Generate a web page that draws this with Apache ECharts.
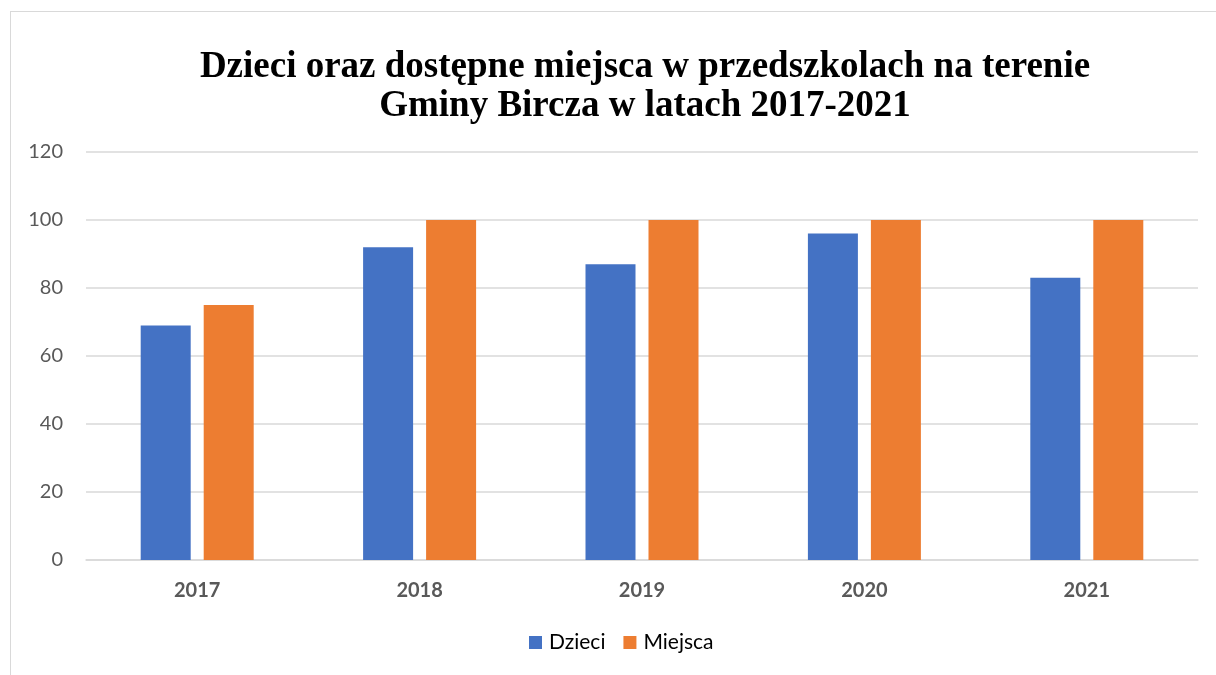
<!DOCTYPE html>
<html>
<head>
<meta charset="utf-8">
<script src="https://cdn.jsdelivr.net/npm/echarts@6/dist/echarts.min.js"></script>
<style>
  html, body { margin: 0; padding: 0; background: #fff; overflow: hidden; }
  #frame { position: absolute; left: 10px; top: 11px; width: 1300px; height: 800px; border: 1.5px solid #d9d9d9; }
  #chart { position: absolute; left: 0; top: 0; width: 1216px; height: 675px; }
</style>
</head>
<body>
<div id="frame"></div>
<div id="chart"></div>
<script>
// dane
const years = ['2017', '2018', '2019', '2020', '2021'];
const dzieci = [69, 92, 87, 96, 83];
const miejsca = [75, 100, 100, 100, 100];
const yTicks = [0, 20, 40, 60, 80, 100, 120];

const chart = echarts.init(document.getElementById('chart'));
const option = {
  animation: false,
  backgroundColor: 'transparent',
  title: {
    text: 'Dzieci oraz dostępne miejsca w przedszkolach na terenie\nGminy Bircza w latach 2017-2021',
    left: 640,
    textAlign: 'center',
    top: 43,
    textStyle: {
      fontFamily: 'Liberation Serif',
      fontWeight: 'bold',
      fontSize: 37,
      lineHeight: 39,
      color: '#000'
    }
  },
  legend: {
    bottom: 17,
    left: 524,
    itemWidth: 13,
    itemHeight: 13,
    itemGap: 18,
    icon: 'rect',
    textStyle: { fontFamily: 'Lato', fontSize: 21, color: '#000', padding: [0, 0, 0, 2] },
    data: ['Dzieci', 'Miejsca']
  },
  grid: { left: 86, right: 18, top: 152, bottom: 115 },
  xAxis: {
    type: 'category',
    data: years,
    axisLine: { lineStyle: { color: '#d9d9d9', width: 1.5 } },
    axisTick: { show: false },
    axisLabel: { fontFamily: 'Lato', fontWeight: 'bold', fontSize: 20, color: '#595959', margin: 21 }
  },
  yAxis: {
    type: 'value',
    min: yTicks[0],
    max: yTicks[yTicks.length - 1],
    interval: 20,
    axisLine: { show: false },
    axisTick: { show: false },
    splitLine: { lineStyle: { color: '#d9d9d9', width: 1.5 } },
    axisLabel: { fontFamily: 'Lato', fontSize: 20, color: '#595959', margin: 23 }
  },
  series: [
    {
      name: 'Dzieci',
      type: 'bar',
      data: dzieci,
      barWidth: 50,
      barGap: '26%',
      itemStyle: { color: '#4472c4' }
    },
    {
      name: 'Miejsca',
      type: 'bar',
      data: miejsca,
      barWidth: 50,
      itemStyle: { color: '#ed7d31' }
    }
  ]
};
chart.setOption(option);
</script>
</body>
</html>
